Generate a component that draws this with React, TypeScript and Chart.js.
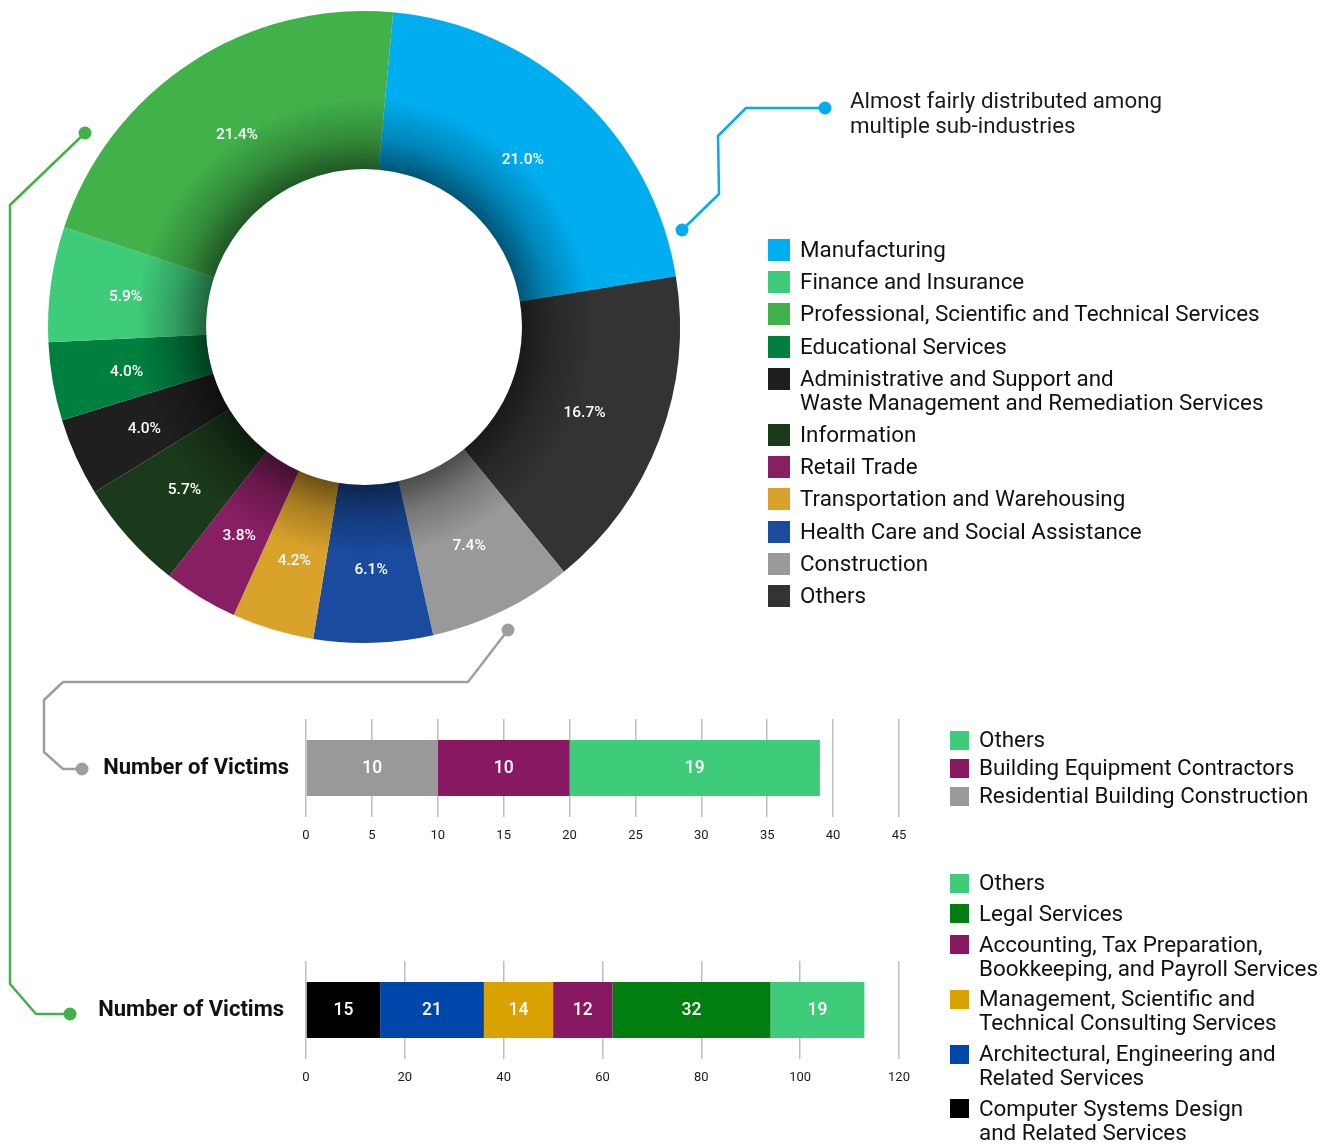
import React, { useEffect, useRef } from "react";
import { Chart, registerables } from "chart.js";

Chart.register(...registerables);
Chart.defaults.font.family = "Roboto, 'Noto Sans', sans-serif";

// ---------- Doughnut data (clockwise from top) ----------
const industries = [
  "Manufacturing",
  "Others",
  "Construction",
  "Health Care and Social Assistance",
  "Transportation and Warehousing",
  "Retail Trade",
  "Information",
  "Administrative and Support and\nWaste Management and Remediation Services",
  "Educational Services",
  "Finance and Insurance",
  "Professional, Scientific and Technical Services",
];
const industryShares = [21.0, 16.7, 7.4, 6.1, 4.2, 3.8, 5.7, 4.0, 4.0, 5.9, 21.4];
const industryColors = [
  "#00adef",
  "#333333",
  "#999999",
  "#1a4b9e",
  "#d9a22b",
  "#881f62",
  "#1b3a1b",
  "#1f1f1f",
  "#00803f",
  "#3ecc7a",
  "#41b24a",
];
const industryLegendOrder = [0, 9, 10, 8, 7, 6, 5, 4, 3, 2, 1];

// ---------- Construction breakdown ----------
const constructionCategories = [
  "Residential Building Construction",
  "Building Equipment Contractors",
  "Others",
];
const constructionVictims = [10, 10, 19];
const constructionColors = ["#999999", "#881862", "#3ecc7a"];
const constructionAxisMax = 45;
const constructionAxisStep = 5;

// ---------- Professional services breakdown ----------
const professionalCategories = [
  "Computer Systems Design\nand Related Services",
  "Architectural, Engineering and\nRelated Services",
  "Management, Scientific and\nTechnical Consulting Services",
  "Accounting, Tax Preparation,\nBookkeeping, and Payroll Services",
  "Legal Services",
  "Others",
];
const professionalVictims = [15, 21, 14, 12, 32, 19];
const professionalColors = ["#000000", "#0047ab", "#d9a200", "#881862", "#007e10", "#3ecc7a"];
const professionalAxisMax = 120;
const professionalAxisStep = 20;

const barRowLabel = "Number of Victims";
const annotationText = ["Almost fairly distributed among", "multiple sub-industries"];

const FONT = "Roboto, 'Noto Sans', sans-serif";

function Doughnut() {
  const ref = useRef<HTMLCanvasElement>(null);
  useEffect(() => {
    const plugin = {
      id: "ringShadeAndLabels",
      afterDatasetsDraw(chart: any) {
        const ctx = chart.ctx as CanvasRenderingContext2D;
        const meta = chart.getDatasetMeta(0);
        const a0 = meta.data[0].getProps(["x", "y", "innerRadius", "outerRadius"], true);
        ctx.save();
        ctx.beginPath();
        ctx.arc(a0.x, a0.y, a0.outerRadius, 0, Math.PI * 2);
        ctx.arc(a0.x, a0.y, a0.innerRadius, 0, Math.PI * 2, true);
        const g = ctx.createRadialGradient(a0.x, a0.y, a0.innerRadius, a0.x, a0.y, a0.outerRadius);
        g.addColorStop(0, "rgba(0,0,0,0.5)");
        g.addColorStop(0.2, "rgba(0,0,0,0.22)");
        g.addColorStop(0.45, "rgba(0,0,0,0)");
        g.addColorStop(1, "rgba(0,0,0,0)");
        ctx.fillStyle = g;
        ctx.fill();
        ctx.fillStyle = "#ffffff";
        ctx.font = "500 15.5px " + FONT;
        ctx.textAlign = "center";
        ctx.textBaseline = "middle";
        meta.data.forEach((arc: any, i: number) => {
          const p = arc.getProps(["x", "y", "startAngle", "endAngle", "innerRadius", "outerRadius"], true);
          const ang = (p.startAngle + p.endAngle) / 2;
          const half = (p.endAngle - p.startAngle) / 2;
          const R = p.outerRadius;
          const r0 = p.innerRadius;
          const centroid =
            ((2 / 3) * (R * R * R - r0 * r0 * r0)) / (R * R - r0 * r0) * (Math.sin(half) / half);
          const rc = (centroid + (R + r0) / 2) / 2;
          ctx.fillText(
            industryShares[i].toFixed(1) + "%",
            p.x + Math.cos(ang) * rc,
            p.y + Math.sin(ang) * rc + 3
          );
        });
        ctx.restore();
      },
    };
    const chart = new Chart(ref.current!, {
      type: "doughnut",
      data: {
        labels: industries,
        datasets: [
          {
            data: industryShares,
            backgroundColor: industryColors,
            borderWidth: 0,
          },
        ],
      },
      options: {
        animation: false,
        responsive: false,
        rotation: 5.3,
        cutout: "50%",
        layout: { padding: 14 },
        plugins: { legend: { display: false }, tooltip: { enabled: false } },
      },
      plugins: [plugin],
    });
    return () => chart.destroy();
  }, []);
  return (
    <canvas
      ref={ref}
      width={660}
      height={660}
      style={{ position: "absolute", left: 34, top: -3, width: 660, height: 660 }}
    />
  );
}

function StackedBar(props: {
  values: number[];
  colors: string[];
  names: string[];
  max: number;
  step: number;
  top: number;
  labelPad: number;
}) {
  const ref = useRef<HTMLCanvasElement>(null);
  useEffect(() => {
    const plugin = {
      id: "barValues",
      afterDatasetsDraw(chart: any) {
        const ctx = chart.ctx as CanvasRenderingContext2D;
        ctx.save();
        ctx.fillStyle = "#ffffff";
        ctx.font = "500 17.5px " + FONT;
        ctx.textAlign = "center";
        ctx.textBaseline = "middle";
        chart.data.datasets.forEach((ds: any, i: number) => {
          const meta = chart.getDatasetMeta(i);
          meta.data.forEach((bar: any, j: number) => {
            const p = bar.getProps(["x", "y", "base"], true);
            ctx.fillText(String(ds.data[j]), (p.x + p.base) / 2, p.y + 1);
          });
        });
        ctx.restore();
      },
    };
    const chart = new Chart(ref.current!, {
      type: "bar",
      data: {
        labels: [barRowLabel],
        datasets: props.values.map((v, i) => ({
          label: props.names[i],
          data: [v],
          backgroundColor: props.colors[i],
          borderWidth: 0,
          barPercentage: 0.571,
          categoryPercentage: 1,
        })),
      },
      options: {
        animation: false,
        responsive: false,
        indexAxis: "y",
        layout: { padding: { top: 10, right: 11, left: 0, bottom: 0 } },
        plugins: { legend: { display: false }, tooltip: { enabled: false } },
        scales: {
          x: {
            stacked: true,
            min: 0,
            max: props.max,
            ticks: {
              stepSize: props.step,
              color: "#1a1a1a",
              font: { size: 13 },
              padding: 11,
            },
            grid: { color: "#bdbdbd", lineWidth: 1.5, drawTicks: false },
            border: { display: false },
            afterFit: (s: any) => {
              s.height = 32;
              s.paddingLeft = 0;
              s.paddingRight = 0;
            },
          },
          y: {
            stacked: true,
            ticks: {
              color: "#111111",
              font: { size: 22, weight: "bold" },
              padding: props.labelPad,
            },
            grid: { display: false, drawTicks: false },
            border: { display: false },
            afterFit: (s: any) => {
              s.width = 216;
              s.paddingTop = 0;
              s.paddingBottom = 0;
            },
          },
        },
      },
      plugins: [plugin],
    });
    return () => chart.destroy();
  }, []);
  return (
    <canvas
      ref={ref}
      width={820}
      height={140}
      style={{ position: "absolute", left: 90, top: props.top, width: 820, height: 140 }}
    />
  );
}

function Legend(props: {
  names: string[];
  colors: string[];
  left: number;
  top: number;
  box: number;
  gap: number;
  textLeft: number;
}) {
  return (
    <div style={{ position: "absolute", left: props.left, top: props.top, fontFamily: FONT }}>
      {props.names.map((n, i) => (
        <div
          key={i}
          style={{ display: "flex", alignItems: "flex-start", marginBottom: props.gap, whiteSpace: "nowrap" }}
        >
          <div
            style={{
              width: props.box,
              height: props.box,
              background: props.colors[i],
              marginTop: (24 - props.box) / 2 + 1,
              flex: "none",
            }}
          />
          <div
            style={{
              marginLeft: props.textLeft - props.box,
              fontSize: 22.4,
              lineHeight: "24px",
              color: "#111111",
            }}
          >
            {n.split("\n").map((line, k) => (
              <div key={k}>{line}</div>
            ))}
          </div>
        </div>
      ))}
    </div>
  );
}

function Connectors() {
  return (
    <svg
      width={1330}
      height={1146}
      style={{ position: "absolute", left: 0, top: 0, pointerEvents: "none" }}
    >
      <g fill="none" strokeWidth={2.5} strokeLinejoin="round">
        <polyline points="682,230 719,194 718,136 746,108 825,108" stroke="#00adef" />
        <polyline points="508,630 468,682 63,682 44,700 44,752 63,769 82,769" stroke="#9e9e9e" />
        <polyline points="85,133 10,205 10,984 36,1014 70,1014" stroke="#41b24a" />
      </g>
      <circle cx={682} cy={230} r={6.5} fill="#00adef" />
      <circle cx={825} cy={108} r={6.5} fill="#00adef" />
      <circle cx={508} cy={630} r={6.5} fill="#9e9e9e" />
      <circle cx={82} cy={769} r={6.5} fill="#9e9e9e" />
      <circle cx={85} cy={133} r={6.5} fill="#41b24a" />
      <circle cx={70} cy={1014} r={6.5} fill="#41b24a" />
    </svg>
  );
}

export default function App() {
  const mainNames = industryLegendOrder.map((i) => industries[i]);
  const mainColors = industryLegendOrder.map((i) => industryColors[i]);
  return (
    <div
      style={{
        position: "absolute",
        left: 0,
        top: 0,
        width: 1330,
        height: 1146,
        background: "#ffffff",
        overflow: "hidden",
        fontFamily: FONT,
      }}
    >
      <Doughnut />
      <Connectors />
      <div
        style={{
          position: "absolute",
          left: 850,
          top: 88,
          fontSize: 22.3,
          lineHeight: "25px",
          color: "#1a1a1a",
          whiteSpace: "nowrap",
        }}
      >
        {annotationText.map((t, i) => (
          <div key={i}>{t}</div>
        ))}
      </div>
      <Legend names={mainNames} colors={mainColors} left={768} top={237} box={22} gap={8.2} textLeft={32} />
      <StackedBar
        values={constructionVictims}
        colors={constructionColors}
        names={constructionCategories}
        max={constructionAxisMax}
        step={constructionAxisStep}
        top={709}
        labelPad={17}
      />
      <StackedBar
        values={professionalVictims}
        colors={professionalColors}
        names={professionalCategories}
        max={professionalAxisMax}
        step={professionalAxisStep}
        top={951}
        labelPad={22}
      />
      <Legend
        names={[...constructionCategories].reverse()}
        colors={[...constructionColors].reverse()}
        left={950}
        top={727}
        box={19}
        gap={4}
        textLeft={29}
      />
      <Legend
        names={[...professionalCategories].reverse()}
        colors={[...professionalColors].reverse()}
        left={950}
        top={870}
        box={19}
        gap={6.8}
        textLeft={29}
      />
    </div>
  );
}
